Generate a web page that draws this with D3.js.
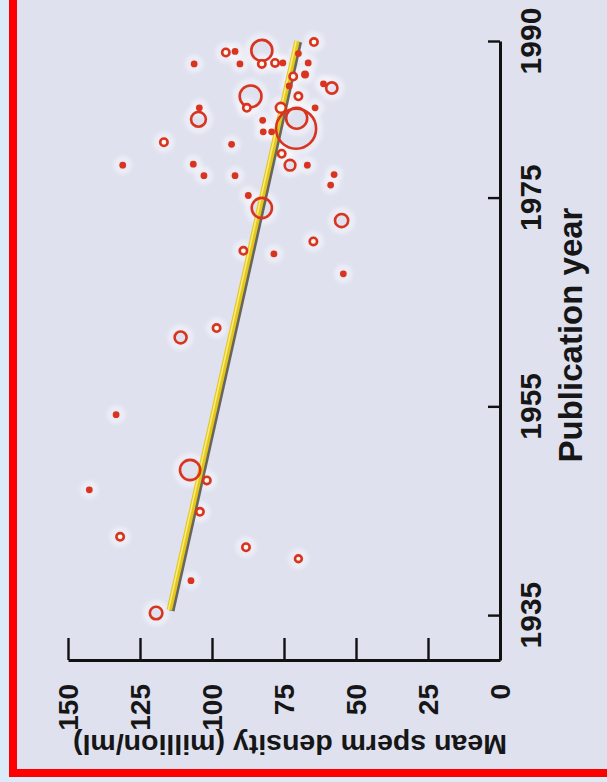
<!DOCTYPE html>
<html>
<head>
<meta charset="utf-8">
<script src="https://cdn.jsdelivr.net/npm/d3@7"></script>
<style>
  html, body { margin: 0; padding: 0; background: #dbebf7; }
  svg { display: block; }
  text { font-family: "Liberation Sans", Arial, Helvetica, sans-serif; font-weight: bold; fill: #161616; }
</style>
</head>
<body>
<script>
// studies: publication year, mean density, relative study size
var years = [1947.0, 1942.5, 1948.9, 1947.9, 1944.9, 1941.5, 1940.4, 1938.3, 1935.2,
  1969.9, 1969.6, 1970.8, 1967.7, 1962.5, 1961.6, 1954.2, 1972.8,
  1987.8, 1988.9, 1989.0, 1989.1, 1987.8, 1987.8, 1987.9, 1987.9, 1988.8, 1989.9,
  1987.9, 1986.6, 1986.8, 1985.5, 1985.9, 1985.7, 1984.7, 1983.6, 1984.7, 1983.6,
  1983.6, 1982.6, 1981.6, 1982.5, 1983.6, 1982.4, 1981.3, 1981.3, 1980.3, 1980.1,
  1979.2, 1978.1, 1978.1, 1978.1, 1978.2, 1977.1, 1977.1, 1977.2, 1976.2, 1975.2, 1974.0];
var density = [142.6, 131.9, 107.6, 101.8, 104.2, 88.2, 70.0, 107.3, 119.4,
  89.1, 78.5, 64.8, 54.4, 98.4, 110.9, 133.3, 55.0,
  106.2, 95.2, 92.0, 82.7, 90.3, 82.7, 78.1, 75.4, 70.0, 64.6,
  66.6, 71.8, 67.7, 58.4, 61.3, 73.2, 86.6, 87.9, 70.0, 76.1,
  64.2, 70.6, 70.8, 104.7, 104.4, 82.4, 82.2, 79.3, 116.7, 93.2,
  75.8, 72.9, 66.9, 131.0, 106.5, 102.8, 92.0, 57.6, 58.8, 87.4, 82.7];
var sizes = [13, 25, 140, 25, 25, 25, 22, 13, 60,
  25, 13, 25, 13, 25, 55, 13, 65,
  13, 25, 13, 150, 13, 25, 25, 13, 13, 25,
  13, 25, 18, 50, 13, 13, 160, 25, 25, 40,
  13, 150, 500, 80, 13, 13, 13, 13, 25, 13,
  25, 45, 13, 13, 13, 13, 13, 13, 13, 13, 140];

var trendYears = [1935.5, 1990];
var trendDensity = [114.8, 70.5];

var yearTicks = [1935, 1955, 1975, 1990];
var densityTicks = [0, 25, 50, 75, 100, 125, 150];

var W = 607, H = 782;
var svg = d3.select("body").append("svg").attr("width", W).attr("height", H);

var defs = svg.append("defs");
defs.append("filter").attr("id", "soft").attr("x", "-50%").attr("y", "-50%").attr("width", "200%").attr("height", "200%")
  .append("feGaussianBlur").attr("stdDeviation", 2);

// frame
svg.append("rect").attr("x", 13).attr("y", -4).attr("width", 604).attr("height", 777)
  .attr("fill", "#dfe1ef").attr("stroke", "#ff0000").attr("stroke-width", 8);

// chart is drawn turned a quarter turn: year runs up the right, density runs right to left
var x = d3.scaleLinear().domain([0, 150]).range([500, 68]);
var y = d3.scaleLinear().domain([1930.7, 1990]).range([660, 41]);
var r = d3.scaleSqrt().domain([0, 500]).range([0, 21]);

var pts = years.map(function(d, i) { return {year: d, dens: density[i], n: sizes[i]}; });

// faint halos
svg.append("g").attr("filter", "url(#soft)")
  .selectAll("circle").data(pts).enter().append("circle")
  .attr("cx", function(d) { return x(d.dens); })
  .attr("cy", function(d) { return y(d.year); })
  .attr("r", function(d) { return r(d.n) + 3; })
  .attr("fill", "none")
  .attr("stroke", "#ffffff")
  .attr("stroke-opacity", 0.6)
  .attr("stroke-width", 4);

// regression line
var trend = trendYears.map(function(d, i) { return [x(trendDensity[i]), y(d)]; });
var line = d3.line();
svg.append("path").attr("d", line(trend)).attr("transform", "translate(2.4,1)")
  .attr("stroke", "#48473a").attr("stroke-opacity", 0.8).attr("stroke-width", 5.5).attr("fill", "none");
svg.append("path").attr("d", line(trend))
  .attr("stroke", "#e4c71a").attr("stroke-width", 5.5).attr("fill", "none");
svg.append("path").attr("d", line(trend)).attr("transform", "translate(-0.9,0)")
  .attr("stroke", "#f8ec7c").attr("stroke-width", 1.6).attr("fill", "none");

// studies
svg.append("g").selectAll("circle").data(pts).enter().append("circle")
  .attr("cx", function(d) { return x(d.dens); })
  .attr("cy", function(d) { return y(d.year); })
  .attr("r", function(d) { var rr = r(d.n); return rr < 4 ? rr : rr - 1; })
  .attr("fill", function(d) {
    var rr = r(d.n);
    if (rr < 4) return "#d9341f";
    if (rr < 6) return "#fdf8ea";
    return "none";
  })
  .attr("stroke", "#d9341f")
  .attr("stroke-width", function(d) { return r(d.n) < 4 ? 0 : 2.6; });

// density axis (bottom)
var gx = svg.append("g").attr("transform", "translate(0,660)")
  .call(d3.axisBottom(x).tickValues(densityTicks).tickSize(-22).tickSizeOuter(0).tickFormat(""));
gx.select(".domain").attr("stroke", "#111").attr("stroke-width", 3);
gx.selectAll(".tick line").attr("stroke", "#111").attr("stroke-width", 2.4);

svg.append("g").selectAll("text").data(densityTicks).enter().append("text")
  .attr("transform", function(d) { return "translate(" + (x(d) + 10) + ",684) rotate(-90)"; })
  .attr("text-anchor", "end")
  .attr("font-size", 28)
  .text(function(d) { return d; });

svg.append("text")
  .attr("transform", "translate(290,735) rotate(180)")
  .attr("text-anchor", "middle")
  .attr("font-size", 28.5)
  .text("Mean sperm density (million/ml)");

// year axis (right)
var gy = svg.append("g").attr("transform", "translate(500,0)")
  .call(d3.axisRight(y).tickValues(yearTicks).tickSize(-12).tickSizeOuter(0).tickFormat(""));
gy.select(".domain").attr("stroke", "#111").attr("stroke-width", 3);
gy.selectAll(".tick line").attr("stroke", "#111").attr("stroke-width", 2.4);

svg.append("g").selectAll("text").data(yearTicks).enter().append("text")
  .attr("transform", function(d) { return "translate(541," + y(d) + ") rotate(-90)"; })
  .attr("text-anchor", "middle")
  .attr("font-size", 30)
  .text(function(d) { return d; });

svg.append("text")
  .attr("transform", "translate(582,335) rotate(-90)")
  .attr("text-anchor", "middle")
  .attr("font-size", 33)
  .text("Publication year");
</script>
</body>
</html>
